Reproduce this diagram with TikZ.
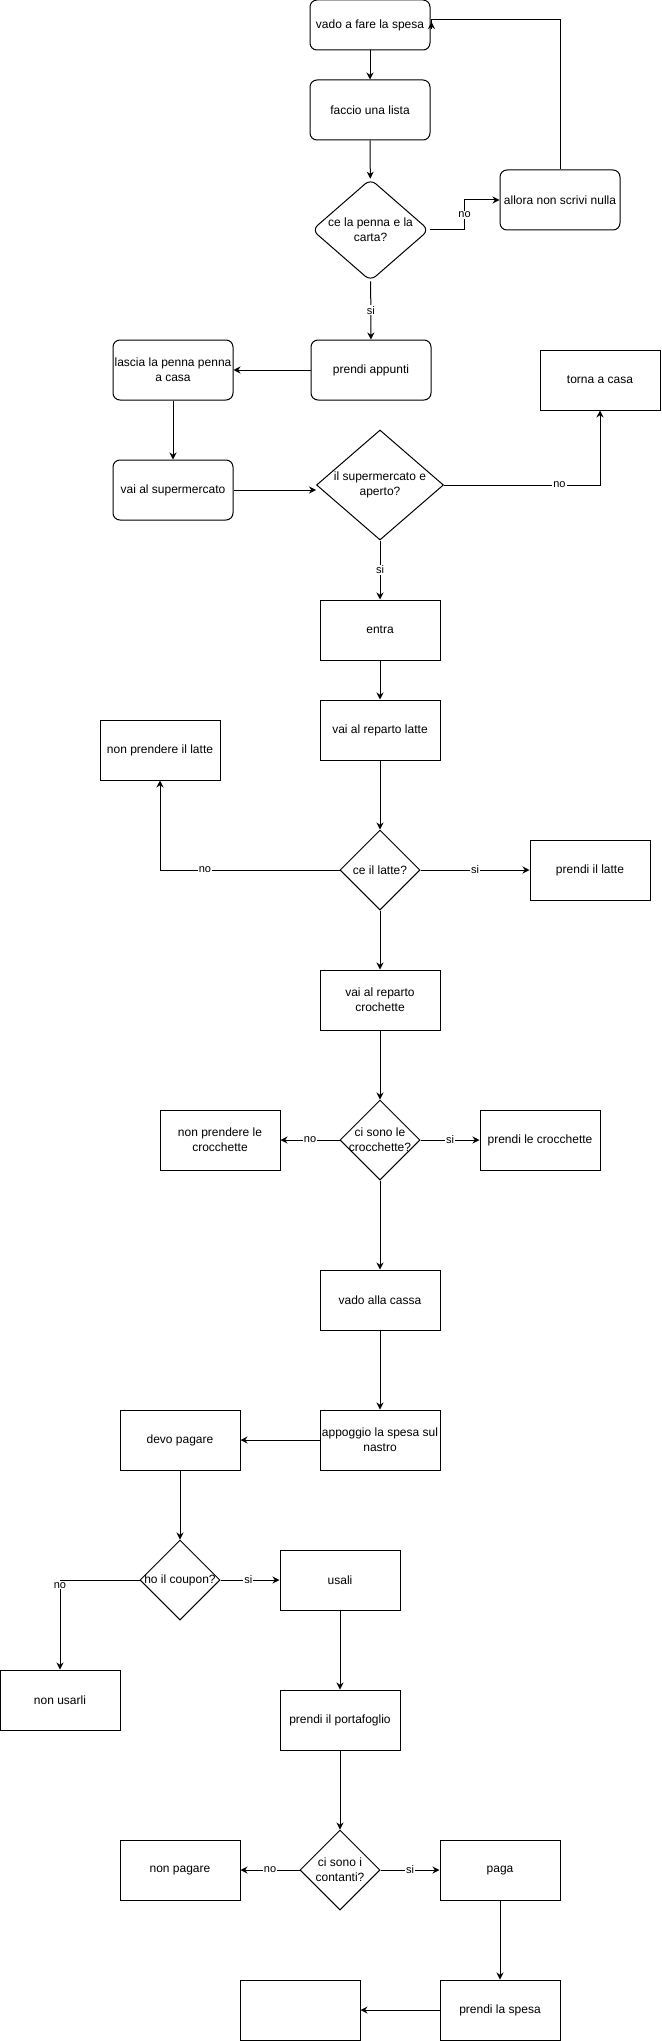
\documentclass[tikz,border=0pt]{standalone}
\usepackage{fontspec}
\setmainfont{Liberation Sans}
\usepackage{tikz}
\usetikzlibrary{shapes.geometric,arrows.meta,calc}
\tikzstyle{rstep}=[draw, rectangle, rounded corners=7pt, minimum width=120pt,
  minimum height=60pt, inner sep=0pt, align=center, font=\fontsize{12pt}{15pt}\selectfont]
\tikzstyle{sstep}=[draw, rectangle, minimum width=120pt, minimum height=60pt,
  inner sep=0pt, align=center, font=\fontsize{12pt}{15pt}\selectfont]
\tikzstyle{dec}=[draw, diamond, inner sep=0pt, minimum width=80pt, minimum height=80pt]
\tikzstyle{dtext}=[align=center, inner sep=0pt, font=\fontsize{12pt}{15pt}\selectfont]
\tikzstyle{elab}=[fill=white, inner sep=1pt, font=\fontsize{11pt}{13pt}\selectfont]

\begin{document}
\begin{tikzpicture}[x=1pt, y=-1pt, >={Stealth[length=7pt,width=7pt]}, line width=1pt]
        \useasboundingbox (0,0) rectangle (661,2041);
        \node[rstep, minimum height=50pt] (vado) at (370,25) {vado a fare la spesa};
        \node[rstep] (faccio) at (370,110) {faccio una lista};
        \node[dec, rounded corners=7pt, minimum width=117pt, minimum height=102pt,
          label={[dtext]center:{ce la penna e la\\carta?}}] (penna) at (370.5,230) {};
        \node[rstep] (allora) at (560,200) {allora non scrivi nulla};
        \node[rstep] (appunti) at (371,370) {prendi appunti};
        \node[rstep] (lascia) at (173,370) {lascia la penna penna\\a casa};
        \node[rstep] (vaisuper) at (173,490) {vai al supermercato};
        \node[dec, minimum width=127pt, minimum height=110pt,
          label={[dtext]center:{il supermercato e\\aperto?}}] (super) at (380,485) {};
        \node[sstep] (torna) at (600,380) {torna a casa};
        \node[sstep] (entra) at (380,630) {entra};
        \node[sstep] (replatte) at (380,730) {vai al reparto latte};
        \node[sstep] (nolatte) at (160,750) {non prendere il latte};
        \node[dec, label={[dtext]center:{ce il latte?}}] (latte) at (380,870) {};
        \node[sstep] (silatte) at (590,870) {prendi il latte};
        \node[sstep] (repcroc) at (380,1000) {vai al reparto\\crochette};
        \node[dec, label={[dtext]center:{ci sono le\\crocchette?}}] (croc) at (380,1140) {};
        \node[sstep] (nocroc) at (220,1140) {non prendere le\\crocchette};
        \node[sstep] (sicroc) at (540,1140) {prendi le crocchette};
        \node[sstep] (cassa) at (380,1300) {vado alla cassa};
        \node[sstep] (nastro) at (380,1440) {appoggio la spesa sul\\nastro};
        \node[sstep] (devo) at (180,1440) {devo pagare};
        \node[dec, label={[dtext]center:{ho il coupon?}}] (coupon) at (180,1580) {};
        \node[sstep] (usali) at (340,1580) {usali};
        \node[sstep] (nousarli) at (60,1700) {non usarli};
        \node[sstep] (portaf) at (340,1720) {prendi il portafoglio};
        \node[dec, label={[dtext]center:{ci sono i\\contanti?}}] (contanti) at (340,1870) {};
        \node[sstep] (nopaga) at (180,1870) {non pagare};
        \node[sstep] (paga) at (500,1870) {paga};
        \node[sstep] (spesa) at (500,2010) {prendi la spesa};
        \node[sstep] (fine) at (300,2010) {};
        \coordinate (loopend) at ($(vado.east)+(1,-5)$);
        \draw[->] (vado) -- (faccio);
        \draw[->] (faccio) -- (penna);
        \draw[->] (penna.east) -- ++(35,0) |- (allora.west) node[elab, pos=0.25] {no};
        \draw[->] (allora.north) |- (loopend) -- ++(0,9) -- ++(0,-7);
        \draw[->] (penna) -- (appunti) node[elab, midway] {si};
        \draw[->] (appunti) -- (lascia);
        \draw[->] (lascia) -- (vaisuper);
        \draw[->] (vaisuper.east) -- (vaisuper.east -| super.west);
        \draw[->] (super.east) -| (torna.south) node[elab, pos=0.37] {no};
        \draw[->] (super) -- (entra) node[elab, midway] {si};
        \draw[->] (entra) -- (replatte);
        \draw[->] (replatte) -- (latte);
        \draw[->] (latte.west) -| (nolatte.south) node[elab, pos=0.375] {no};
        \draw[->] (latte) -- (silatte) node[elab, midway] {si};
        \draw[->] (latte) -- (repcroc);
        \draw[->] (repcroc) -- (croc);
        \draw[->] (croc) -- (nocroc) node[elab, midway] {no};
        \draw[->] (croc) -- (sicroc) node[elab, midway] {si};
        \draw[->] (croc) -- (cassa);
        \draw[->] (cassa) -- (nastro);
        \draw[->] (nastro) -- (devo);
        \draw[->] (devo) -- (coupon);
        \draw[->] (coupon.west) -| (nousarli.north) node[elab, pos=0.53] {no};
        \draw[->] (coupon) -- (usali) node[elab, pos=0.47] {si};
        \draw[->] (usali) -- (portaf);
        \draw[->] (portaf) -- (contanti);
        \draw[->] (contanti) -- (nopaga) node[elab, midway] {no};
        \draw[->] (contanti) -- (paga) node[elab, midway] {si};
        \draw[->] (paga) -- (spesa);
        \draw[->] (spesa) -- (fine);
    \end{tikzpicture}
\end{document}
